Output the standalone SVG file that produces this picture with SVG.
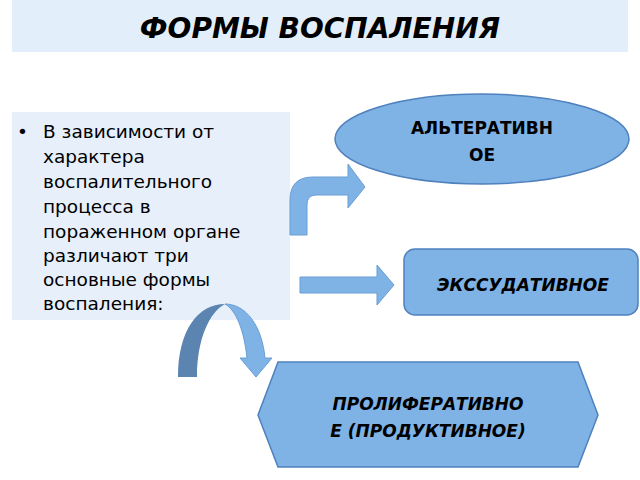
<svg xmlns="http://www.w3.org/2000/svg" width="640" height="480" viewBox="0 0 640 480">
<style>
.t{font-family:"DejaVu Sans",sans-serif;fill:#000}
.h{font-weight:bold;font-size:17px;text-anchor:middle}
.arr{fill:#7fb2e5;stroke:#6a9fd6;stroke-width:1}
</style>
<rect width="640" height="480" fill="#fff"/>
<g id="title"><rect x="12" y="0" width="616" height="52" fill="#e3eefb"/>
<text class="t" x="320" y="38" font-size="28" font-weight="bold" font-style="italic" text-anchor="middle">ФОРМЫ ВОСПАЛЕНИЯ</text></g>
<g id="desc"><rect x="12" y="112" width="278" height="208" fill="#e6effa"/>
<text class="t" font-size="18.5"><tspan x="17" y="138">•</tspan></text>
<text class="t" font-size="18.5" x="43"><tspan x="43" y="138">В зависимости от</tspan><tspan x="43" y="163">характера</tspan><tspan x="43" y="188">воспалительного</tspan><tspan x="43" y="213">процесса в</tspan><tspan x="43" y="238">пораженном органе</tspan><tspan x="43" y="262">различают три</tspan><tspan x="43" y="286">основные формы</tspan><tspan x="43" y="310">воспаления:</tspan></text></g>
<g id="alt"><ellipse cx="482" cy="139" rx="147" ry="45" fill="#7fb2e5" stroke="#4f81bd" stroke-width="1.5"/>
<text class="t h"><tspan x="482" y="134">АЛЬТЕРАТИВН</tspan><tspan x="482" y="161">ОЕ</tspan></text></g>
<g id="exs"><rect x="404" y="249" width="234" height="66" rx="11" fill="#7fb2e5" stroke="#4f81bd" stroke-width="1.5"/>
<text class="t h" x="523" y="291" font-style="italic">ЭКССУДАТИВНОЕ</text></g>
<g id="prol"><polygon points="258,415 278,362 578,362 598,415 578,467 278,467" fill="#7fb2e5" stroke="#4f81bd" stroke-width="1.5"/>
<text class="t h" font-style="italic"><tspan x="428" y="410">ПРОЛИФЕРАТИВНО</tspan><tspan x="428" y="437">Е (ПРОДУКТИВНОЕ)</tspan></text></g>
<g id="connectors">
<path class="arr" d="M290,235 L290,200 Q290,177 313,177 L348,177 L348,164 L365,187 L348,208 L348,195 L316,195 Q307,195 307,205 L307,235 Z"/>
<path class="arr" d="M300,277 L377,277 L377,265 L394,285 L377,305 L377,293 L300,293 Z"/>
<path d="M178,377 C178,330 198,304 225,304 C210,312 197,338 197,377 Z" fill="#5b84b1"/>
<path class="arr" d="M225,304 C246,304 262,326 265,358 L272,358 L256,377 L240,358 L247,358 C244,330 236,310 225,304 Z"/>
</g>
</svg>
